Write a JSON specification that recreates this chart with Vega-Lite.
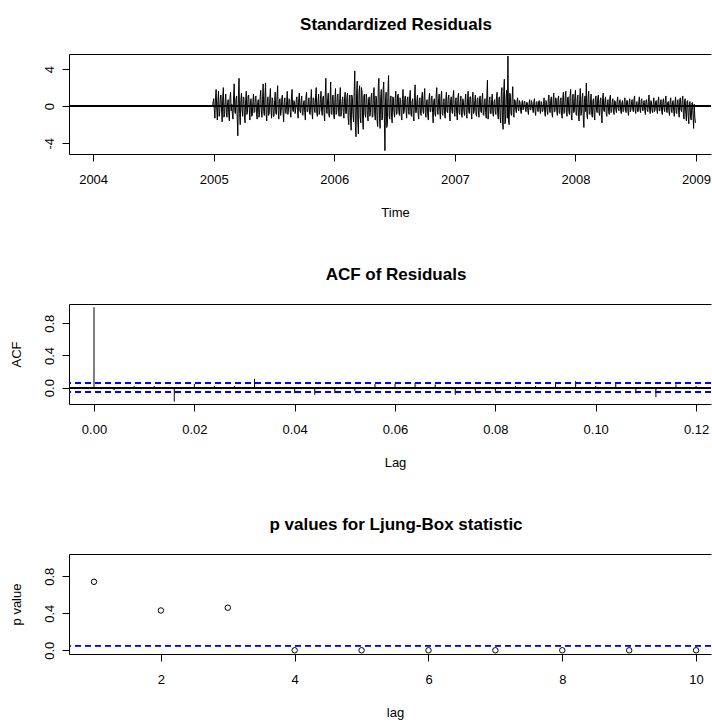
{
  "$schema": "https://vega.github.io/schema/vega-lite/v6.json",
  "background": "white",
  "padding": {"left": 10, "top": 16, "right": 0, "bottom": 0},
  "bounds": "flush",
  "spacing": 150,
  "config": {
    "font": "Liberation Sans",
    "view": {"stroke": null},
    "axis": {"grid": false, "labelFont": "Liberation Sans", "labelFontSize": 13, "labelColor": "black", "tickColor": "black", "tickSize": 7, "tickWidth": 1, "domainColor": "black", "domainWidth": 1, "titleFont": "Liberation Sans", "titleFontSize": 13, "titleFontWeight": "normal", "titleColor": "black", "labelOverlap": false, "labelFlush": false},
    "axisY": {"labelAngle": 270, "labelPadding": 6, "titlePadding": 19.5},
    "axisX": {"labelPadding": 12, "titlePadding": 20.5},
    "title": {"font": "Liberation Sans", "fontSize": 17, "fontWeight": "bold", "color": "black", "offset": 20}
  },
  "datasets": {
    "res": [
      {"t":2004.0,"r":0},{"t":2004.99,"r":0},
      {"t":2005.00,"r":0.8},{"t":2005.01,"r":-1.3},{"t":2005.02,"r":1.8},{"t":2005.03,"r":-1.5},{"t":2005.04,"r":1.6},{"t":2005.05,"r":-0.6},{"t":2005.06,"r":1.2},{"t":2005.07,"r":-1.7},{"t":2005.08,"r":2.0},{"t":2005.09,"r":-0.9},
      {"t":2005.10,"r":1.3},{"t":2005.11,"r":-1.2},{"t":2005.12,"r":0.7},{"t":2005.13,"r":-1.6},{"t":2005.14,"r":1.5},{"t":2005.15,"r":0.2},{"t":2005.16,"r":-1.4},{"t":2005.17,"r":2.4},{"t":2005.18,"r":-0.8},{"t":2005.19,"r":1.1},
      {"t":2005.20,"r":-3.2},{"t":2005.21,"r":3.0},{"t":2005.22,"r":-2.0},{"t":2005.23,"r":1.4},{"t":2005.24,"r":-1.1},{"t":2005.25,"r":0.9},{"t":2005.26,"r":-1.8},{"t":2005.27,"r":1.6},{"t":2005.28,"r":-0.7},{"t":2005.29,"r":1.2},
      {"t":2005.30,"r":-1.5},{"t":2005.31,"r":0.8},{"t":2005.32,"r":-1.0},{"t":2005.33,"r":1.3},{"t":2005.34,"r":-0.6},{"t":2005.35,"r":1.1},{"t":2005.36,"r":-1.4},{"t":2005.37,"r":0.7},{"t":2005.38,"r":-0.9},{"t":2005.39,"r":1.7},
      {"t":2005.40,"r":-1.2},{"t":2005.41,"r":2.4},{"t":2005.42,"r":-1.0},{"t":2005.43,"r":2.5},{"t":2005.44,"r":-1.6},{"t":2005.45,"r":1.0},{"t":2005.46,"r":-0.8},{"t":2005.47,"r":1.9},{"t":2005.48,"r":-1.3},{"t":2005.49,"r":0.6},
      {"t":2005.50,"r":-1.1},{"t":2005.51,"r":1.5},{"t":2005.52,"r":-0.9},{"t":2005.53,"r":2.2},{"t":2005.54,"r":-1.4},{"t":2005.55,"r":0.8},{"t":2005.56,"r":-0.5},{"t":2005.57,"r":1.2},{"t":2005.58,"r":-1.7},{"t":2005.59,"r":0.9},
      {"t":2005.60,"r":-0.8},{"t":2005.61,"r":1.6},{"t":2005.62,"r":-0.4},{"t":2005.63,"r":0.7},{"t":2005.64,"r":-1.2},{"t":2005.65,"r":1.8},{"t":2005.66,"r":-0.6},{"t":2005.67,"r":0.5},{"t":2005.68,"r":-0.3},{"t":2005.69,"r":1.0},
      {"t":2005.70,"r":-1.3},{"t":2005.71,"r":1.4},{"t":2005.72,"r":-0.7},{"t":2005.73,"r":1.1},{"t":2005.74,"r":-1.0},{"t":2005.75,"r":0.6},{"t":2005.76,"r":-1.5},{"t":2005.77,"r":1.5},{"t":2005.78,"r":-0.6},{"t":2005.79,"r":0.9},
      {"t":2005.80,"r":-0.9},{"t":2005.81,"r":1.8},{"t":2005.82,"r":-1.4},{"t":2005.83,"r":0.8},{"t":2005.84,"r":-0.7},{"t":2005.85,"r":2.0},{"t":2005.86,"r":-1.1},{"t":2005.87,"r":1.3},{"t":2005.88,"r":-0.5},{"t":2005.89,"r":1.6},
      {"t":2005.90,"r":-1.0},{"t":2005.91,"r":1.1},{"t":2005.92,"r":-1.6},{"t":2005.93,"r":3.0},{"t":2005.94,"r":-0.8},{"t":2005.95,"r":1.4},{"t":2005.96,"r":-1.2},{"t":2005.97,"r":2.6},{"t":2005.98,"r":-0.9},{"t":2005.99,"r":1.2},
      {"t":2006.00,"r":-1.4},{"t":2006.01,"r":1.9},{"t":2006.02,"r":-0.7},{"t":2006.03,"r":1.3},{"t":2006.04,"r":-1.1},{"t":2006.05,"r":2.0},{"t":2006.06,"r":-0.6},{"t":2006.07,"r":1.0},{"t":2006.08,"r":-1.3},{"t":2006.09,"r":1.5},
      {"t":2006.10,"r":-0.8},{"t":2006.11,"r":1.4},{"t":2006.12,"r":-2.0},{"t":2006.13,"r":1.2},{"t":2006.14,"r":-2.6},{"t":2006.15,"r":0.9},{"t":2006.16,"r":-1.7},{"t":2006.17,"r":3.8},{"t":2006.18,"r":-3.3},{"t":2006.19,"r":2.7},
      {"t":2006.20,"r":-3.0},{"t":2006.21,"r":2.2},{"t":2006.22,"r":-1.8},{"t":2006.23,"r":1.6},{"t":2006.24,"r":-2.5},{"t":2006.25,"r":1.3},{"t":2006.26,"r":-1.2},{"t":2006.27,"r":0.8},{"t":2006.28,"r":-1.6},{"t":2006.29,"r":1.0},
      {"t":2006.30,"r":-0.7},{"t":2006.31,"r":1.4},{"t":2006.32,"r":-1.1},{"t":2006.33,"r":2.0},{"t":2006.34,"r":-1.5},{"t":2006.35,"r":0.9},{"t":2006.36,"r":-2.2},{"t":2006.37,"r":3.0},{"t":2006.38,"r":-2.4},{"t":2006.39,"r":1.8},
      {"t":2006.40,"r":-1.3},{"t":2006.41,"r":2.6},{"t":2006.42,"r":-4.8},{"t":2006.43,"r":1.5},{"t":2006.44,"r":-2.0},{"t":2006.45,"r":3.3},{"t":2006.46,"r":-1.4},{"t":2006.47,"r":1.1},{"t":2006.48,"r":-1.8},{"t":2006.49,"r":0.9},
      {"t":2006.50,"r":-1.2},{"t":2006.51,"r":1.6},{"t":2006.52,"r":-0.8},{"t":2006.53,"r":1.3},{"t":2006.54,"r":-1.0},{"t":2006.55,"r":0.7},{"t":2006.56,"r":-1.5},{"t":2006.57,"r":1.8},{"t":2006.58,"r":-0.6},{"t":2006.59,"r":1.1},
      {"t":2006.60,"r":-1.3},{"t":2006.61,"r":1.0},{"t":2006.62,"r":-0.9},{"t":2006.63,"r":1.7},{"t":2006.64,"r":-1.1},{"t":2006.65,"r":0.8},{"t":2006.66,"r":-1.6},{"t":2006.67,"r":2.3},{"t":2006.68,"r":-0.7},{"t":2006.69,"r":1.2},
      {"t":2006.70,"r":-1.4},{"t":2006.71,"r":0.9},{"t":2006.72,"r":-1.0},{"t":2006.73,"r":1.5},{"t":2006.74,"r":-0.8},{"t":2006.75,"r":1.9},{"t":2006.76,"r":-1.2},{"t":2006.77,"r":0.7},{"t":2006.78,"r":-1.5},{"t":2006.79,"r":1.4},
      {"t":2006.80,"r":-0.6},{"t":2006.81,"r":1.1},{"t":2006.82,"r":-1.8},{"t":2006.83,"r":0.8},{"t":2006.84,"r":-1.1},{"t":2006.85,"r":2.0},{"t":2006.86,"r":-0.9},{"t":2006.87,"r":1.3},{"t":2006.88,"r":-1.4},{"t":2006.89,"r":1.6},
      {"t":2006.90,"r":-1.0},{"t":2006.91,"r":0.8},{"t":2006.92,"r":-1.3},{"t":2006.93,"r":1.5},{"t":2006.94,"r":-0.7},{"t":2006.95,"r":1.2},{"t":2006.96,"r":-1.6},{"t":2006.97,"r":1.0},{"t":2006.98,"r":-0.8},{"t":2006.99,"r":1.7},
      {"t":2007.00,"r":-1.1},{"t":2007.01,"r":0.9},{"t":2007.02,"r":-1.5},{"t":2007.03,"r":1.4},{"t":2007.04,"r":-0.9},{"t":2007.05,"r":1.1},{"t":2007.06,"r":-1.2},{"t":2007.07,"r":0.6},{"t":2007.08,"r":-1.0},{"t":2007.09,"r":1.3},
      {"t":2007.10,"r":-1.3},{"t":2007.11,"r":1.6},{"t":2007.12,"r":-0.8},{"t":2007.13,"r":1.0},{"t":2007.14,"r":-1.4},{"t":2007.15,"r":1.5},{"t":2007.16,"r":-0.6},{"t":2007.17,"r":1.2},{"t":2007.18,"r":-1.1},{"t":2007.19,"r":0.9},
      {"t":2007.20,"r":-1.2},{"t":2007.21,"r":1.1},{"t":2007.22,"r":-0.7},{"t":2007.23,"r":1.4},{"t":2007.24,"r":-1.0},{"t":2007.25,"r":0.8},{"t":2007.26,"r":-1.3},{"t":2007.27,"r":2.8},{"t":2007.28,"r":-0.9},{"t":2007.29,"r":1.0},
      {"t":2007.30,"r":-0.8},{"t":2007.31,"r":1.3},{"t":2007.32,"r":-1.1},{"t":2007.33,"r":0.7},{"t":2007.34,"r":-0.9},{"t":2007.35,"r":1.5},{"t":2007.36,"r":-1.4},{"t":2007.37,"r":1.0},{"t":2007.38,"r":-1.8},{"t":2007.39,"r":2.0},
      {"t":2007.40,"r":-2.5},{"t":2007.41,"r":2.9},{"t":2007.42,"r":-1.6},{"t":2007.43,"r":1.7},{"t":2007.44,"r":5.4},{"t":2007.45,"r":-2.0},{"t":2007.46,"r":1.2},{"t":2007.47,"r":-1.0},{"t":2007.48,"r":2.1},{"t":2007.49,"r":-1.2},
      {"t":2007.50,"r":0.6},{"t":2007.51,"r":-0.7},{"t":2007.52,"r":0.9},{"t":2007.53,"r":-0.5},{"t":2007.54,"r":0.4},{"t":2007.55,"r":-0.8},{"t":2007.56,"r":0.6},{"t":2007.57,"r":-0.3},{"t":2007.58,"r":0.5},{"t":2007.59,"r":-0.6},
      {"t":2007.60,"r":0.4},{"t":2007.61,"r":-0.9},{"t":2007.62,"r":0.7},{"t":2007.63,"r":-0.4},{"t":2007.64,"r":0.3},{"t":2007.65,"r":-0.7},{"t":2007.66,"r":0.8},{"t":2007.67,"r":-1.0},{"t":2007.68,"r":0.5},{"t":2007.69,"r":-0.6},
      {"t":2007.70,"r":0.6},{"t":2007.71,"r":-0.8},{"t":2007.72,"r":0.4},{"t":2007.73,"r":-0.5},{"t":2007.74,"r":0.9},{"t":2007.75,"r":-1.1},{"t":2007.76,"r":0.5},{"t":2007.77,"r":-0.9},{"t":2007.78,"r":1.2},{"t":2007.79,"r":-0.7},
      {"t":2007.80,"r":1.0},{"t":2007.81,"r":-1.2},{"t":2007.82,"r":1.4},{"t":2007.83,"r":-0.6},{"t":2007.84,"r":0.8},{"t":2007.85,"r":-1.0},{"t":2007.86,"r":1.1},{"t":2007.87,"r":-0.8},{"t":2007.88,"r":0.9},{"t":2007.89,"r":-1.3},
      {"t":2007.90,"r":1.5},{"t":2007.91,"r":-0.7},{"t":2007.92,"r":1.6},{"t":2007.93,"r":-1.1},{"t":2007.94,"r":1.0},{"t":2007.95,"r":-0.9},{"t":2007.96,"r":1.8},{"t":2007.97,"r":-1.5},{"t":2007.98,"r":1.3},{"t":2007.99,"r":-0.6},
      {"t":2008.00,"r":1.7},{"t":2008.01,"r":-1.0},{"t":2008.02,"r":1.2},{"t":2008.03,"r":-1.6},{"t":2008.04,"r":1.9},{"t":2008.05,"r":-0.8},{"t":2008.06,"r":1.4},{"t":2008.07,"r":-2.3},{"t":2008.08,"r":1.1},{"t":2008.09,"r":2.5},
      {"t":2008.10,"r":-1.4},{"t":2008.11,"r":1.6},{"t":2008.12,"r":-0.9},{"t":2008.13,"r":1.3},{"t":2008.14,"r":-1.2},{"t":2008.15,"r":0.8},{"t":2008.16,"r":-1.5},{"t":2008.17,"r":1.1},{"t":2008.18,"r":-0.7},{"t":2008.19,"r":1.2},
      {"t":2008.20,"r":-1.0},{"t":2008.21,"r":0.9},{"t":2008.22,"r":-1.8},{"t":2008.23,"r":1.4},{"t":2008.24,"r":-0.6},{"t":2008.25,"r":1.0},{"t":2008.26,"r":-1.1},{"t":2008.27,"r":0.7},{"t":2008.28,"r":-0.9},{"t":2008.29,"r":1.2},
      {"t":2008.30,"r":-0.6},{"t":2008.31,"r":0.8},{"t":2008.32,"r":-0.9},{"t":2008.33,"r":0.5},{"t":2008.34,"r":-0.7},{"t":2008.35,"r":1.0},{"t":2008.36,"r":-0.5},{"t":2008.37,"r":0.7},{"t":2008.38,"r":-0.8},{"t":2008.39,"r":0.6},
      {"t":2008.40,"r":-0.5},{"t":2008.41,"r":0.9},{"t":2008.42,"r":-0.7},{"t":2008.43,"r":0.6},{"t":2008.44,"r":-1.0},{"t":2008.45,"r":0.8},{"t":2008.46,"r":-0.4},{"t":2008.47,"r":0.7},{"t":2008.48,"r":-0.6},{"t":2008.49,"r":1.1},
      {"t":2008.50,"r":-0.8},{"t":2008.51,"r":0.5},{"t":2008.52,"r":-0.6},{"t":2008.53,"r":1.0},{"t":2008.54,"r":-0.7},{"t":2008.55,"r":0.8},{"t":2008.56,"r":-0.5},{"t":2008.57,"r":0.6},{"t":2008.58,"r":-0.9},{"t":2008.59,"r":0.7},
      {"t":2008.60,"r":-0.6},{"t":2008.61,"r":1.2},{"t":2008.62,"r":-0.8},{"t":2008.63,"r":0.5},{"t":2008.64,"r":-0.7},{"t":2008.65,"r":0.9},{"t":2008.66,"r":-0.4},{"t":2008.67,"r":0.6},{"t":2008.68,"r":-0.8},{"t":2008.69,"r":1.0},
      {"t":2008.70,"r":-0.5},{"t":2008.71,"r":0.7},{"t":2008.72,"r":-0.9},{"t":2008.73,"r":0.8},{"t":2008.74,"r":-0.6},{"t":2008.75,"r":1.1},{"t":2008.76,"r":-0.7},{"t":2008.77,"r":0.5},{"t":2008.78,"r":-1.0},{"t":2008.79,"r":0.9},
      {"t":2008.80,"r":-0.7},{"t":2008.81,"r":0.6},{"t":2008.82,"r":-1.1},{"t":2008.83,"r":1.0},{"t":2008.84,"r":-0.8},{"t":2008.85,"r":0.7},{"t":2008.86,"r":-1.2},{"t":2008.87,"r":0.9},{"t":2008.88,"r":-0.6},{"t":2008.89,"r":1.1},
      {"t":2008.90,"r":-1.4},{"t":2008.91,"r":0.8},{"t":2008.92,"r":-1.6},{"t":2008.93,"r":0.6},{"t":2008.94,"r":-1.9},{"t":2008.95,"r":0.5},{"t":2008.96,"r":-1.5},{"t":2008.97,"r":0.4},{"t":2008.98,"r":-2.4},{"t":2008.99,"r":-1.2},
      {"t":2005.005,"r":-0.4},{"t":2005.015,"r":0.9},{"t":2005.025,"r":-0.2},{"t":2005.035,"r":0.6},{"t":2005.045,"r":-1.1},{"t":2005.055,"r":0.8},{"t":2005.065,"r":-0.3},{"t":2005.075,"r":1.0},{"t":2005.085,"r":-1.2},{"t":2005.095,"r":0.5},
      {"t":2005.105,"r":-0.7},{"t":2005.115,"r":0.4},{"t":2005.125,"r":-1.0},{"t":2005.135,"r":0.9},{"t":2005.145,"r":-0.5},{"t":2005.155,"r":-0.9},{"t":2005.165,"r":1.1},{"t":2005.175,"r":-0.6},{"t":2005.185,"r":0.8},{"t":2005.195,"r":-1.3},
      {"t":2005.205,"r":1.2},{"t":2005.215,"r":-0.8},{"t":2005.225,"r":0.6},{"t":2005.235,"r":-0.4},{"t":2005.245,"r":1.0},{"t":2005.255,"r":-1.2},{"t":2005.265,"r":0.7},{"t":2005.275,"r":-0.9},{"t":2005.285,"r":1.1},{"t":2005.295,"r":-0.3},
      {"t":2005.305,"r":0.6},{"t":2005.315,"r":-1.1},{"t":2005.325,"r":0.5},{"t":2005.335,"r":-0.7},{"t":2005.345,"r":0.9},{"t":2005.355,"r":-0.8},{"t":2005.365,"r":0.4},{"t":2005.375,"r":-1.2},{"t":2005.385,"r":1.0},{"t":2005.395,"r":-0.5},
      {"t":2005.405,"r":0.7},{"t":2005.415,"r":-0.6},{"t":2005.425,"r":1.1},{"t":2005.435,"r":-0.9},{"t":2005.445,"r":0.5},{"t":2005.455,"r":-1.0},{"t":2005.465,"r":0.8},{"t":2005.475,"r":-0.4},{"t":2005.485,"r":0.9},{"t":2005.495,"r":-1.1},
      {"t":2005.505,"r":0.6},{"t":2005.515,"r":-0.8},{"t":2005.525,"r":1.0},{"t":2005.535,"r":-0.5},{"t":2005.545,"r":0.7},{"t":2005.555,"r":-1.0},{"t":2005.565,"r":0.9},{"t":2005.575,"r":-0.6},{"t":2005.585,"r":0.4},{"t":2005.595,"r":-0.7},
      {"t":2005.605,"r":0.5},{"t":2005.615,"r":-0.9},{"t":2005.625,"r":0.8},{"t":2005.635,"r":-0.6},{"t":2005.645,"r":1.0},{"t":2005.655,"r":-0.4},{"t":2005.665,"r":0.6},{"t":2005.675,"r":-0.8},{"t":2005.685,"r":0.7},{"t":2005.695,"r":-0.5},
      {"t":2005.705,"r":0.8},{"t":2005.715,"r":-0.5},{"t":2005.725,"r":0.6},{"t":2005.735,"r":-0.9},{"t":2005.745,"r":0.4},{"t":2005.755,"r":-0.7},{"t":2005.765,"r":1.0},{"t":2005.775,"r":-0.6},{"t":2005.785,"r":0.5},{"t":2005.795,"r":-0.8},
      {"t":2005.805,"r":0.6},{"t":2005.815,"r":-0.7},{"t":2005.825,"r":0.9},{"t":2005.835,"r":-0.4},{"t":2005.845,"r":1.1},{"t":2005.855,"r":-0.8},{"t":2005.865,"r":0.5},{"t":2005.875,"r":-0.9},{"t":2005.885,"r":0.7},{"t":2005.895,"r":-0.6},
      {"t":2005.905,"r":0.9},{"t":2005.915,"r":-0.7},{"t":2005.925,"r":1.2},{"t":2005.935,"r":-0.5},{"t":2005.945,"r":0.8},{"t":2005.955,"r":-1.0},{"t":2005.965,"r":0.6},{"t":2005.975,"r":-0.8},{"t":2005.985,"r":1.0},{"t":2005.995,"r":-0.9},
      {"t":2006.005,"r":0.7},{"t":2006.015,"r":-0.9},{"t":2006.025,"r":1.0},{"t":2006.035,"r":-0.6},{"t":2006.045,"r":0.8},{"t":2006.055,"r":-1.1},{"t":2006.065,"r":0.5},{"t":2006.075,"r":-0.7},{"t":2006.085,"r":0.9},{"t":2006.095,"r":-0.8},
      {"t":2006.105,"r":1.0},{"t":2006.115,"r":-1.3},{"t":2006.125,"r":0.8},{"t":2006.135,"r":-1.5},{"t":2006.145,"r":1.2},{"t":2006.155,"r":-0.9},{"t":2006.165,"r":1.6},{"t":2006.175,"r":-2.2},{"t":2006.185,"r":1.4},{"t":2006.195,"r":-1.8},
      {"t":2006.205,"r":1.5},{"t":2006.215,"r":-1.2},{"t":2006.225,"r":2.0},{"t":2006.235,"r":-1.4},{"t":2006.245,"r":1.1},{"t":2006.255,"r":-0.9},{"t":2006.265,"r":1.3},{"t":2006.275,"r":-1.0},{"t":2006.285,"r":0.8},{"t":2006.295,"r":-1.1},
      {"t":2006.305,"r":0.9},{"t":2006.315,"r":-1.2},{"t":2006.325,"r":1.5},{"t":2006.335,"r":-0.8},{"t":2006.345,"r":1.1},{"t":2006.355,"r":-1.6},{"t":2006.365,"r":2.2},{"t":2006.375,"r":-1.3},{"t":2006.385,"r":1.0},{"t":2006.395,"r":-1.5},
      {"t":2006.405,"r":1.8},{"t":2006.415,"r":-1.1},{"t":2006.425,"r":0.9},{"t":2006.435,"r":-2.3},{"t":2006.445,"r":1.6},{"t":2006.455,"r":-1.0},{"t":2006.465,"r":0.8},{"t":2006.475,"r":-1.2},{"t":2006.485,"r":1.0},{"t":2006.495,"r":-0.7},
      {"t":2006.505,"r":0.8},{"t":2006.515,"r":-0.9},{"t":2006.525,"r":1.1},{"t":2006.535,"r":-0.6},{"t":2006.545,"r":0.9},{"t":2006.555,"r":-1.0},{"t":2006.565,"r":0.7},{"t":2006.575,"r":-0.8},{"t":2006.585,"r":1.0},{"t":2006.595,"r":-0.5},
      {"t":2006.605,"r":0.7},{"t":2006.615,"r":-0.6},{"t":2006.625,"r":1.0},{"t":2006.635,"r":-0.8},{"t":2006.645,"r":0.5},{"t":2006.655,"r":-1.1},{"t":2006.665,"r":0.9},{"t":2006.675,"r":-0.7},{"t":2006.685,"r":0.6},{"t":2006.695,"r":-0.9},
      {"t":2006.705,"r":0.6},{"t":2006.715,"r":-0.8},{"t":2006.725,"r":0.9},{"t":2006.735,"r":-0.5},{"t":2006.745,"r":1.0},{"t":2006.755,"r":-0.7},{"t":2006.765,"r":0.5},{"t":2006.775,"r":-1.0},{"t":2006.785,"r":0.8},{"t":2006.795,"r":-0.6},
      {"t":2006.805,"r":0.9},{"t":2006.815,"r":-0.7},{"t":2006.825,"r":0.6},{"t":2006.835,"r":-0.9},{"t":2006.845,"r":1.2},{"t":2006.855,"r":-0.5},{"t":2006.865,"r":0.8},{"t":2006.875,"r":-0.6},{"t":2006.885,"r":1.0},{"t":2006.895,"r":-0.8},
      {"t":2006.905,"r":0.5},{"t":2006.915,"r":-0.9},{"t":2006.925,"r":0.8},{"t":2006.935,"r":-0.6},{"t":2006.945,"r":0.9},{"t":2006.955,"r":-0.8},{"t":2006.965,"r":0.7},{"t":2006.975,"r":-0.5},{"t":2006.985,"r":1.1},{"t":2006.995,"r":-0.7},
      {"t":2007.005,"r":0.6},{"t":2007.015,"r":-0.8},{"t":2007.025,"r":0.9},{"t":2007.035,"r":-0.7},{"t":2007.045,"r":0.5},{"t":2007.055,"r":-1.0},{"t":2007.065,"r":0.8},{"t":2007.075,"r":-0.6},{"t":2007.085,"r":0.7},{"t":2007.095,"r":-0.9},
      {"t":2007.105,"r":0.8},{"t":2007.115,"r":-0.6},{"t":2007.125,"r":1.0},{"t":2007.135,"r":-0.5},{"t":2007.145,"r":0.9},{"t":2007.155,"r":-0.8},{"t":2007.165,"r":0.6},{"t":2007.175,"r":-0.9},{"t":2007.185,"r":0.7},{"t":2007.195,"r":-0.5},
      {"t":2007.205,"r":0.9},{"t":2007.215,"r":-0.6},{"t":2007.225,"r":0.8},{"t":2007.235,"r":-0.9},{"t":2007.245,"r":0.5},{"t":2007.255,"r":-0.7},{"t":2007.265,"r":1.1},{"t":2007.275,"r":-1.4},{"t":2007.285,"r":0.6},{"t":2007.295,"r":-0.8},
      {"t":2007.305,"r":0.7},{"t":2007.315,"r":-0.9},{"t":2007.325,"r":0.5},{"t":2007.335,"r":-0.6},{"t":2007.345,"r":1.0},{"t":2007.355,"r":-0.8},{"t":2007.365,"r":0.9},{"t":2007.375,"r":-1.2},{"t":2007.385,"r":1.3},{"t":2007.395,"r":-1.5},
      {"t":2007.405,"r":1.6},{"t":2007.415,"r":-1.9},{"t":2007.425,"r":1.0},{"t":2007.435,"r":-1.3},{"t":2007.445,"r":-1.6},{"t":2007.455,"r":1.4},{"t":2007.465,"r":-0.8},{"t":2007.475,"r":0.9},{"t":2007.485,"r":-0.9},{"t":2007.495,"r":0.7},
      {"t":2007.505,"r":-0.4},{"t":2007.515,"r":0.5},{"t":2007.525,"r":-0.3},{"t":2007.535,"r":0.6},{"t":2007.545,"r":-0.5},{"t":2007.555,"r":0.3},{"t":2007.565,"r":-0.4},{"t":2007.575,"r":0.5},{"t":2007.585,"r":-0.3},{"t":2007.595,"r":0.4},
      {"t":2007.605,"r":-0.5},{"t":2007.615,"r":0.3},{"t":2007.625,"r":-0.4},{"t":2007.635,"r":0.6},{"t":2007.645,"r":-0.3},{"t":2007.655,"r":0.5},{"t":2007.665,"r":-0.6},{"t":2007.675,"r":0.4},{"t":2007.685,"r":-0.3},{"t":2007.695,"r":0.5},
      {"t":2007.705,"r":-0.4},{"t":2007.715,"r":0.5},{"t":2007.725,"r":-0.6},{"t":2007.735,"r":0.3},{"t":2007.745,"r":-0.7},{"t":2007.755,"r":0.6},{"t":2007.765,"r":-0.5},{"t":2007.775,"r":0.8},{"t":2007.785,"r":-0.4},{"t":2007.795,"r":0.7},
      {"t":2007.805,"r":-0.8},{"t":2007.815,"r":0.7},{"t":2007.825,"r":-0.6},{"t":2007.835,"r":0.9},{"t":2007.845,"r":-0.5},{"t":2007.855,"r":0.8},{"t":2007.865,"r":-0.7},{"t":2007.875,"r":0.6},{"t":2007.885,"r":-1.0},{"t":2007.895,"r":0.9},
      {"t":2007.905,"r":-0.8},{"t":2007.915,"r":1.0},{"t":2007.925,"r":-0.7},{"t":2007.935,"r":0.9},{"t":2007.945,"r":-0.6},{"t":2007.955,"r":1.1},{"t":2007.965,"r":-0.9},{"t":2007.975,"r":0.8},{"t":2007.985,"r":-0.7},{"t":2007.995,"r":1.0},
      {"t":2008.005,"r":-0.9},{"t":2008.015,"r":0.8},{"t":2008.025,"r":-1.1},{"t":2008.035,"r":0.7},{"t":2008.045,"r":-1.0},{"t":2008.055,"r":0.9},{"t":2008.065,"r":-1.4},{"t":2008.075,"r":0.8},{"t":2008.085,"r":-0.6},{"t":2008.095,"r":-1.0},
      {"t":2008.105,"r":0.9},{"t":2008.115,"r":-0.8},{"t":2008.125,"r":0.7},{"t":2008.135,"r":-0.9},{"t":2008.145,"r":0.6},{"t":2008.155,"r":-1.0},{"t":2008.165,"r":0.8},{"t":2008.175,"r":-0.5},{"t":2008.185,"r":0.9},{"t":2008.195,"r":-0.7},
      {"t":2008.205,"r":0.6},{"t":2008.215,"r":-0.9},{"t":2008.225,"r":0.8},{"t":2008.235,"r":-0.5},{"t":2008.245,"r":0.7},{"t":2008.255,"r":-0.8},{"t":2008.265,"r":0.5},{"t":2008.275,"r":-0.6},{"t":2008.285,"r":0.9},{"t":2008.295,"r":-0.7},
      {"t":2008.305,"r":0.4},{"t":2008.315,"r":-0.5},{"t":2008.325,"r":0.6},{"t":2008.335,"r":-0.4},{"t":2008.345,"r":0.5},{"t":2008.355,"r":-0.3},{"t":2008.365,"r":0.6},{"t":2008.375,"r":-0.5},{"t":2008.385,"r":0.4},{"t":2008.395,"r":-0.6},
      {"t":2008.405,"r":0.5},{"t":2008.415,"r":-0.4},{"t":2008.425,"r":0.6},{"t":2008.435,"r":-0.5},{"t":2008.445,"r":0.4},{"t":2008.455,"r":-0.6},{"t":2008.465,"r":0.5},{"t":2008.475,"r":-0.3},{"t":2008.485,"r":0.7},{"t":2008.495,"r":-0.5},
      {"t":2008.505,"r":0.4},{"t":2008.515,"r":-0.6},{"t":2008.525,"r":0.5},{"t":2008.535,"r":-0.4},{"t":2008.545,"r":0.6},{"t":2008.555,"r":-0.3},{"t":2008.565,"r":0.4},{"t":2008.575,"r":-0.5},{"t":2008.585,"r":0.6},{"t":2008.595,"r":-0.4},
      {"t":2008.605,"r":0.5},{"t":2008.615,"r":-0.4},{"t":2008.625,"r":0.6},{"t":2008.635,"r":-0.5},{"t":2008.645,"r":0.3},{"t":2008.655,"r":-0.6},{"t":2008.665,"r":0.5},{"t":2008.675,"r":-0.4},{"t":2008.685,"r":0.6},{"t":2008.695,"r":-0.5},
      {"t":2008.705,"r":0.4},{"t":2008.715,"r":-0.6},{"t":2008.725,"r":0.5},{"t":2008.735,"r":-0.3},{"t":2008.745,"r":0.6},{"t":2008.755,"r":-0.5},{"t":2008.765,"r":0.4},{"t":2008.775,"r":-0.6},{"t":2008.785,"r":0.5},{"t":2008.795,"r":-0.4},
      {"t":2008.805,"r":0.5},{"t":2008.815,"r":-0.6},{"t":2008.825,"r":0.4},{"t":2008.835,"r":-0.7},{"t":2008.845,"r":0.6},{"t":2008.855,"r":-0.5},{"t":2008.865,"r":0.7},{"t":2008.875,"r":-0.4},{"t":2008.885,"r":0.6},{"t":2008.895,"r":-0.8},
      {"t":2008.905,"r":0.6},{"t":2008.915,"r":-0.9},{"t":2008.925,"r":0.5},{"t":2008.935,"r":-1.1},{"t":2008.945,"r":0.4},{"t":2008.955,"r":-1.3},{"t":2008.965,"r":0.3},{"t":2008.975,"r":-1.0},{"t":2008.985,"r":0.2},{"t":2008.995,"r":-1.8}
    ],
    "acf": [
      {"lag":0.000,"acf":1.0},{"lag":0.004,"acf":-0.03},{"lag":0.008,"acf":0.02},{"lag":0.012,"acf":0.02},{"lag":0.016,"acf":-0.175},{"lag":0.020,"acf":0.045},{"lag":0.024,"acf":0.02},{"lag":0.028,"acf":0.02},{"lag":0.032,"acf":0.11},{"lag":0.036,"acf":0.005},
      {"lag":0.040,"acf":-0.07},{"lag":0.044,"acf":-0.09},{"lag":0.048,"acf":-0.07},{"lag":0.052,"acf":-0.04},{"lag":0.056,"acf":0.045},{"lag":0.060,"acf":0.05},{"lag":0.064,"acf":0.06},{"lag":0.068,"acf":0.04},{"lag":0.072,"acf":-0.09},{"lag":0.076,"acf":-0.04},
      {"lag":0.080,"acf":-0.04},{"lag":0.084,"acf":0.02},{"lag":0.088,"acf":0.02},{"lag":0.092,"acf":0.045},{"lag":0.096,"acf":0.08},{"lag":0.100,"acf":0.02},{"lag":0.104,"acf":0.045},{"lag":0.108,"acf":-0.07},{"lag":0.112,"acf":-0.12},{"lag":0.116,"acf":0.04},
      {"lag":0.120,"acf":0.02}
    ],
    "lb": [
      {"lag":1,"p":0.74},{"lag":2,"p":0.43},{"lag":3,"p":0.46},{"lag":4,"p":0.0},{"lag":5,"p":0.0},{"lag":6,"p":0.0},{"lag":7,"p":0.0},{"lag":8,"p":0.0},{"lag":9,"p":0.0},{"lag":10,"p":0.0}
    ]
  },
  "vconcat": [
    {
      "width": 642, "height": 100,
      "title": {"text": "Standardized Residuals", "dx": 6},
      "data": {"name": "res"},
      "resolve": {"axis": {"x": "independent"}},
      "layer": [
        {
          "mark": {"type": "line", "color": "black", "strokeWidth": 1, "clip": true},
          "encoding": {
            "x": {"field": "t", "type": "quantitative", "scale": {"domain": [2003.8, 2009.124], "nice": false, "zero": false},
                  "axis": {"orient": "bottom", "values": [2004, 2005, 2006, 2007, 2008, 2009], "format": "d", "title": "Time", "titleX": 326}},
            "y": {"field": "r", "type": "quantitative", "scale": {"domain": [-5.16, 5.62], "nice": false, "zero": false},
                  "axis": {"values": [-4, -2, 0, 2, 4], "labelExpr": "datum.value == -2 ? '' : (datum.value < 0 ? '-' + format(-datum.value, 'd') : format(datum.value, 'd'))", "title": null}}
          }
        },
        {
          "mark": {"type": "rule", "color": "black", "strokeWidth": 1},
          "encoding": {"y": {"datum": 0, "type": "quantitative"}}
        },
        {
          "mark": {"type": "rule", "opacity": 0},
          "encoding": {"x": {"datum": 2005, "type": "quantitative", "axis": {"orient": "top", "labels": false, "ticks": false, "title": null, "domain": true}}}
        }
      ]
    },
    {
      "width": 642, "height": 100,
      "title": {"text": "ACF of Residuals", "dx": 6},
      "data": {"name": "acf"},
      "resolve": {"axis": {"x": "independent"}},
      "layer": [
        {
          "mark": {"type": "rule", "color": "black", "strokeWidth": 1},
          "encoding": {
            "x": {"field": "lag", "type": "quantitative", "scale": {"domain": [-0.004983, 0.12298], "nice": false, "zero": false},
                  "axis": {"orient": "bottom", "values": [0, 0.02, 0.04, 0.06, 0.08, 0.1, 0.12], "format": ".2f", "title": "Lag", "titleX": 326}},
            "y": {"field": "acf", "type": "quantitative", "scale": {"domain": [-0.204, 1.04], "nice": false, "zero": false},
                  "axis": {"values": [0, 0.2, 0.4, 0.6, 0.8, 1.0], "format": ".1f", "labelExpr": "(datum.value == 0 || abs(datum.value - 0.4) < 0.01 || abs(datum.value - 0.8) < 0.01) ? datum.label : ''", "title": "ACF"}},
            "y2": {"datum": 0}
          }
        },
        {
          "mark": {"type": "rule", "color": "black", "strokeWidth": 1},
          "encoding": {"y": {"datum": 0, "type": "quantitative"}}
        },
        {
          "mark": {"type": "rule", "color": "#0000FF", "strokeWidth": 1, "strokeDash": [6, 4]},
          "encoding": {"y": {"datum": 0.055, "type": "quantitative"}}
        },
        {
          "mark": {"type": "rule", "color": "#0000FF", "strokeWidth": 1, "strokeDash": [6, 4]},
          "encoding": {"y": {"datum": -0.055, "type": "quantitative"}}
        },
        {
          "mark": {"type": "rule", "opacity": 0},
          "encoding": {"x": {"datum": 0.05, "type": "quantitative", "axis": {"orient": "top", "labels": false, "ticks": false, "title": null, "domain": true}}}
        }
      ]
    },
    {
      "width": 642, "height": 100,
      "title": {"text": "p values for Ljung-Box statistic", "dx": 6},
      "data": {"name": "lb"},
      "resolve": {"axis": {"x": "independent"}},
      "layer": [
        {
          "mark": {"type": "point", "shape": "circle", "filled": false, "color": "black", "size": 30, "strokeWidth": 1, "opacity": 1},
          "encoding": {
            "x": {"field": "lag", "type": "quantitative", "scale": {"domain": [0.6263, 10.223], "nice": false, "zero": false},
                  "axis": {"orient": "bottom", "values": [2, 4, 6, 8, 10], "format": "d", "title": "lag", "titleX": 326}},
            "y": {"field": "p", "type": "quantitative", "scale": {"domain": [-0.04, 1.04], "nice": false, "zero": false},
                  "axis": {"values": [0, 0.2, 0.4, 0.6, 0.8, 1.0], "format": ".1f", "labelExpr": "(datum.value == 0 || abs(datum.value - 0.4) < 0.01 || abs(datum.value - 0.8) < 0.01) ? datum.label : ''", "title": "p value"}}
          }
        },
        {
          "mark": {"type": "rule", "color": "#0000FF", "strokeWidth": 1, "strokeDash": [6, 4]},
          "encoding": {"y": {"datum": 0.05, "type": "quantitative"}}
        },
        {
          "mark": {"type": "rule", "opacity": 0},
          "encoding": {"x": {"datum": 5, "type": "quantitative", "axis": {"orient": "top", "labels": false, "ticks": false, "title": null, "domain": true}}}
        }
      ]
    }
  ]
}
